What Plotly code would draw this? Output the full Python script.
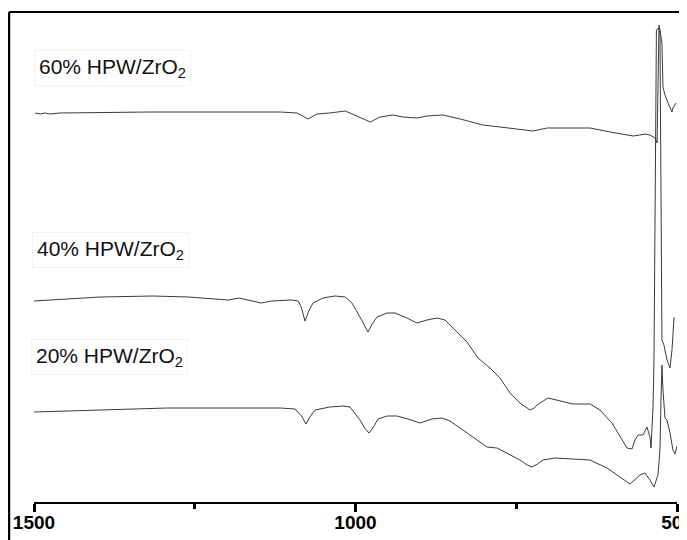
import plotly.graph_objects as go

# Wavenumber (cm-1) and transmittance (arbitrary units, offset spectra)
wn_60 = [1498, 1490, 1483, 1475, 1460, 1320, 1117, 1091, 1074, 1060, 1040, 1016, 1005, 977, 962,
         942, 926, 904, 889, 864, 837, 802, 775, 744, 724, 702, 666, 635, 604, 568, 558, 550, 542,
         534, 531, 529.6, 528, 526.5, 523.4, 521.8, 518.7, 514, 507.8, 506.3, 501.6]
t_60 = [389, 388, 389, 388, 389, 390, 390, 389, 383, 388, 389, 391, 388, 380, 385,
        387, 385, 384, 386, 387, 383, 377, 375, 373, 371, 374, 374, 374, 370, 366, 367, 368, 367,
        364, 359, 440, 477, 472, 459, 415, 407, 399, 390, 394, 399]

wn_40 = [1500, 1397, 1315, 1260, 1198, 1181, 1147, 1130, 1100, 1089, 1084, 1078.5, 1072, 1066, 1050.5, 1032,
         1016, 1005.5, 993, 986, 980.6, 974, 966.6, 951, 938.6, 920, 904.4, 888.8, 873.3, 860.8, 842.2, 826.6,
         809.5, 790.8, 775.3, 759.7, 744.2, 735, 728.6, 722, 717.8, 700.6, 677.3, 661.8, 635.3, 619.8, 601.1,
         588.7, 577.8, 570, 565.4, 560.7, 552.9, 546.7, 542, 540.4, 537.3, 535.8, 534.2, 532,
         529, 526.5, 523.4, 520.3, 515.6, 510.9, 507.8, 504.7, 503.1]
t_40 = [201, 205, 206, 205, 202, 204, 199, 201, 202, 201, 194, 181, 192, 199, 204, 206,
        205, 199, 185, 176, 170, 178, 185, 189, 189, 184, 179, 182, 184, 182, 170, 160,
        144, 134, 124, 109, 99, 95, 92, 94, 97, 104, 100, 98, 98, 92, 79,
        65, 54, 53, 62, 67, 67, 75, 65, 54, 95, 140, 300, 472,
        474, 470, 162, 157, 142, 134, 152, 184, 184]

wn_20 = [1500, 1397, 1293, 1117, 1094, 1084, 1077, 1070, 1063, 1040, 1019, 1008.6, 993, 986, 979, 972, 965, 951, 935.5,
         918.4, 899.7, 881, 865.5, 853, 832.8, 811.1, 795.5, 779.9, 759.7, 744.2, 733, 725.5, 717, 708.4,
         689.7, 666.4, 635.3, 608.9, 588.7, 573.1, 557.6, 549.8, 542, 535.8, 529.6, 526.5, 524.9,
         523.4, 521.8, 518.7, 515.6, 510.9, 506.3, 503.1, 500]
t_20 = [90, 92, 94, 94, 93, 86, 78, 86, 92, 95, 96, 95, 82, 74, 69, 75, 83, 86, 86,
        83, 79, 83, 84, 81, 72, 62, 55, 54, 47, 42, 37, 35, 38, 42,
        44, 43, 42, 34, 25, 18, 27, 29, 22, 15, 27, 52, 102,
        137, 112, 84, 82, 69, 52, 48, 56]

series = [("60%", wn_60, t_60), ("40%", wn_40, t_40), ("20%", wn_20, t_20)]
labels = ["60% HPW/ZrO<sub>2</sub>", "40% HPW/ZrO<sub>2</sub>", "20% HPW/ZrO<sub>2</sub>"]
label_y = [434, 252, 145]

tick_vals = [1500, 1000, 500]
tick_text = ["1500", "1000", "500"]

fig = go.Figure()
for name, x, y in series:
    fig.add_trace(go.Scatter(x=x, y=y, mode="lines", name=name,
                             line=dict(color="#3a3a3a", width=1),
                             hoverinfo="skip", showlegend=False))

label_left = [0.0, -0.003, -0.005]   # paper-x of the label boxes' left edges
for txt, lx, ly in zip(labels, label_left, label_y):
    fig.add_annotation(x=lx, y=ly, xref="paper", yref="y", text=txt, showarrow=False,
                       xanchor="left", yanchor="middle",
                       font=dict(family="Liberation Sans, Arial", size=21, color="#111"),
                       bordercolor="#f2f2f2", borderwidth=1, borderpad=4)

# outer frame (cropped figure border)
fig.add_shape(type="line", xref="paper", yref="paper", x0=-0.0389, x1=1.1, y0=1, y1=1,
              line=dict(color="black", width=2))
fig.add_shape(type="line", xref="paper", yref="paper", x0=-0.0389, x1=-0.0389, y0=1, y1=-0.15,
              line=dict(color="black", width=2.5))

fig.update_xaxes(range=[1500, 500], showgrid=False, zeroline=False, automargin=False,
                 showline=True, linecolor="black", linewidth=2,
                 ticks="outside", ticklen=8, tickwidth=2.5, tickcolor="black",
                 tickvals=tick_vals, ticktext=tick_text, ticklabeloverflow="allow",
                 ticklabelstandoff=-6,
                 tickfont=dict(family="Liberation Sans Narrow, Arial Narrow, Liberation Sans", size=19,
                               color="black", weight="bold"),
                 minor=dict(dtick=250, tick0=500, ticks="outside", ticklen=5, tickwidth=2.5, tickcolor="black"))
fig.update_yaxes(visible=False, range=[0, 490], automargin=False)

# page body adds an 8px offset, so the figure is sized/margined to land on the reference pixels
fig.update_layout(width=679, height=532, margin=dict(l=26, r=10, t=4, b=38, autoexpand=False),
                  paper_bgcolor="white", plot_bgcolor="white")

fig.write_html("out.html")
